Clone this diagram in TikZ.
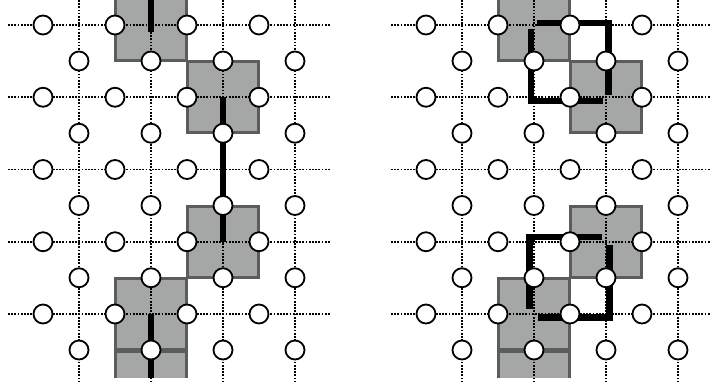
\documentclass[tikz,border=0pt]{standalone}
\usetikzlibrary{calc}
\definecolor{plaqfill}{HTML}{A5A7A7}
\definecolor{plaqline}{HTML}{5A5C5D}
\tikzset{
  latticeline/.style={draw=black, line width=1.8pt, dash pattern=on 1.7pt off 1.5pt},
  qubit/.style={circle, draw=black, fill=white, line width=1.8pt, minimum size=19pt, inner sep=0pt},
  stabbox/.style={draw=plaqline, fill=plaqfill, line width=3.5pt, minimum size=71pt, inner sep=0pt},
  chain/.style={draw=black, line width=6.5pt},
  chainA/.style={chain, transform canvas={xshift=2.5pt, yshift=2pt}},
  chainB/.style={chain, transform canvas={xshift=-3pt, yshift=-4pt}},
  chainC/.style={chain, transform canvas={xshift=-4.5pt, yshift=5pt}},
  chainD/.style={chain, transform canvas={xshift=3.5pt, yshift=-3.5pt}}
}
\begin{document}
\begin{tikzpicture}[x=1pt, y=-1pt]
  \useasboundingbox (0,0) rectangle (711,390);
  \foreach \p/\dx in {L/0, R/383} {
    \foreach \r in {0,...,5} \foreach \c in {1,...,4}
      \coordinate (\p-v-\c-\r) at ({\dx+7+72*\c}, {25+72.25*\r});
    \begin{scope}
      \clip ({\dx},0) rectangle ({\dx+340},377);
      \foreach \c/\r [count=\k] in {2/0, 3/1, 3/3, 2/4, 2/5}
        \node[stabbox] (\p-s-\k) at (\p-v-\c-\r) {};
    \end{scope}
    \foreach \r in {0,...,4} {
      \coordinate (\p-west-\r) at ({\dx+8}, {25+72.25*\r});
      \coordinate (\p-east-\r) at ({\dx+331}, {25+72.25*\r});
      \draw[latticeline] (\p-west-\r) -- (\p-east-\r);
    }
    \foreach \c in {1,...,4} {
      \coordinate (\p-north-\c) at ({\dx+7+72*\c}, 0);
      \coordinate (\p-south-\c) at ({\dx+7+72*\c}, 382);
      \draw[latticeline] (\p-north-\c) -- (\p-south-\c);
    }
  }
  \begin{scope}
    \clip (0,0) rectangle (711,377);
    \coordinate (L-top) at (151,-5);
    \draw[chain, shorten >=-7pt] (L-top) -- (L-v-2-0);
    \draw[chain] (L-v-3-1) -- (L-v-3-3);
    \draw[chain] (L-v-2-4) -- (L-v-2-5);
    \draw[chainA] (R-v-2-0) -- (R-v-3-0) -- (R-v-3-1);
    \draw[chainB] (R-v-2-0) -- (R-v-2-1) -- (R-v-3-1);
    \draw[chainC] (R-v-3-3) -- (R-v-2-3) -- (R-v-2-4);
    \draw[chainD] (R-v-3-3) -- (R-v-3-4) -- (R-v-2-4);
  \end{scope}
  \foreach \p/\dx in {L/0, R/383} {
    \foreach \r in {0,...,4} {
      \foreach \c in {0,...,3}
        \node[qubit] (\p-h-\c-\r) at ({\dx+43+72*\c}, {25+72.25*\r}) {};
      \foreach \c in {1,...,4}
        \node[qubit] (\p-e-\c-\r) at ({\dx+7+72*\c}, {61+72.25*\r}) {};
    }
  }
\end{tikzpicture}
\end{document}
